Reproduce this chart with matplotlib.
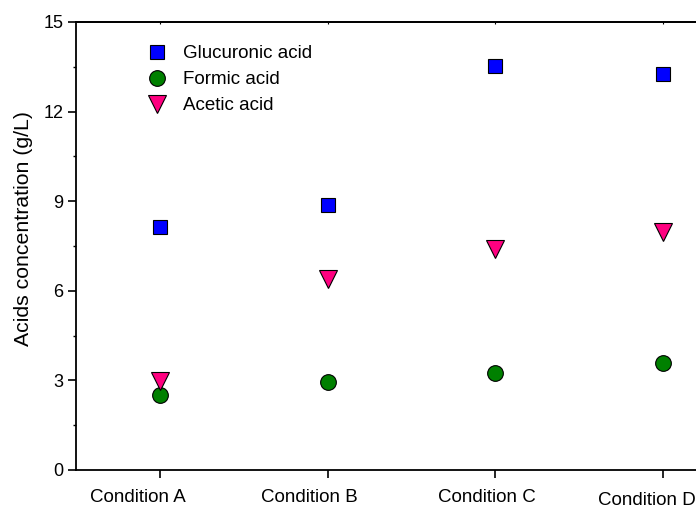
import matplotlib
matplotlib.use("Agg")
import matplotlib.pyplot as plt
import matplotlib.transforms as mtransforms
from matplotlib.ticker import MultipleLocator

plt.rcParams['font.family'] = ['Liberation Sans', 'DejaVu Sans']

categories = ["Condition A", "Condition B", "Condition C", "Condition D"]
glucuronic = [8.14, 8.87, 13.52, 13.27]
formic = [2.50, 2.95, 3.24, 3.58]
acetic = [2.98, 6.39, 7.40, 7.97]
yticks = [0, 3, 6, 9, 12, 15]

fig = plt.figure(figsize=(6.96, 5.08), dpi=100)
ax = fig.add_axes([76/696, 38/508, 671/696, 448/508])

x = list(range(len(categories)))
ax.plot(x, glucuronic, linestyle='none', marker='s', markersize=10.5,
        markerfacecolor='#0000ff', markeredgecolor='black', markeredgewidth=0.8,
        label='Glucuronic acid', zorder=3)
ax.plot(x, formic, linestyle='none', marker='o', markersize=11.3,
        markerfacecolor='#008000', markeredgecolor='black', markeredgewidth=0.8,
        label='Formic acid', zorder=3)
ax.plot(x, acetic, linestyle='none', marker='v', markersize=13,
        markerfacecolor='#ff0080', markeredgecolor='black', markeredgewidth=0.8,
        label='Acetic acid', zorder=3)

ax.set_xlim(-0.5, 3.5)
ax.set_ylim(0, 15)
ax.set_yticks(yticks)
ax.yaxis.set_minor_locator(MultipleLocator(1.5))
ax.set_xticks(x)
ax.set_xticklabels(categories)

for s in ax.spines.values():
    s.set_linewidth(1.3)

ax.tick_params(axis='y', which='major', direction='out', length=5.5, width=1.2,
               labelsize=13, pad=3.5)
ax.tick_params(axis='y', which='minor', direction='out', length=2.5, width=1.0)
ax.tick_params(axis='x', which='major', direction='out', length=5.5, width=1.2,
               labelsize=13.5, pad=8.5)

# tiny ticks on the top spine
top = ax.secondary_xaxis('top')
top.set_xticks(x)
top.tick_params(axis='x', direction='in', length=1.5, width=0.8, labeltop=False)
top.spines['top'].set_linewidth(1.3)

ax.set_ylabel('Acids concentration (g/L)', fontsize=15.3)
ax.yaxis.set_label_coords(-0.064, 0.539)

# per-label offsets (pixels) as in reference
offsets = [(-22, 0), (-18, 0), (-9, 0), (-16, -3)]
for lab, (dx, dy) in zip(ax.get_xticklabels(), offsets):
    lab.set_transform(lab.get_transform() +
                      mtransforms.ScaledTranslation(dx/100, dy/100, fig.dpi_scale_trans))

leg = ax.legend(loc='upper left', bbox_to_anchor=(0.1067, 0.948), frameon=False,
                fontsize=13.5, handlelength=1.0, handletextpad=0.885,
                labelspacing=0.47, borderpad=0, borderaxespad=0)

fig.savefig('out.png', dpi=100)
